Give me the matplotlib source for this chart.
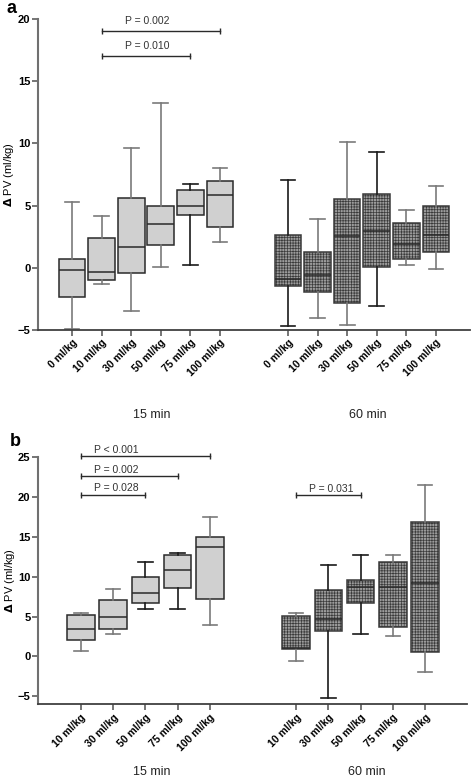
import numpy as np
import matplotlib
matplotlib.use("Agg")
import matplotlib.pyplot as plt

plt.rcParams['font.family'] = ['Liberation Sans', 'DejaVu Sans']
plt.rcParams['hatch.linewidth'] = 0.5

# ---- data ----
doses_a = ["0 ml/kg", "10 ml/kg", "30 ml/kg", "50 ml/kg", "75 ml/kg", "100 ml/kg"]
doses_b = ["10 ml/kg", "30 ml/kg", "50 ml/kg", "75 ml/kg", "100 ml/kg"]
groups = ["15 min", "60 min"]

# panel a, 15 min
a15_lo = [-4.95, -1.29, -3.48, 0.08, 0.21, 2.09]
a15_q1 = [-2.33, -1.02, -0.40, 1.82, 4.26, 3.29]
a15_med = [-0.19, -0.37, 1.69, 3.53, 4.98, 5.84]
a15_q3 = [0.67, 2.43, 5.62, 5.00, 6.27, 6.96]
a15_hi = [5.33, 4.15, 9.66, 13.25, 6.72, 8.03]
# panel a, 60 min
a60_lo = [-4.71, -4.02, -4.63, -3.05, 0.22, -0.10]
a60_q1 = [-1.50, -1.98, -2.84, 0.05, 0.70, 1.31]
a60_med = [-0.88, -0.56, 2.54, 2.92, 1.90, 2.60]
a60_q3 = [2.60, 1.26, 5.52, 5.92, 3.61, 5.00]
a60_hi = [7.09, 3.96, 10.09, 9.29, 4.68, 6.59]

# panel b, 15 min
b15_lo = [0.67, 2.79, 6.00, 6.00, 3.96]
b15_q1 = [2.00, 3.50, 6.75, 8.54, 7.17]
b15_med = [3.50, 4.92, 7.92, 10.87, 13.75]
b15_q3 = [5.17, 7.04, 10.00, 12.67, 14.92]
b15_hi = [5.50, 8.50, 11.79, 12.96, 17.50]
# panel b, 60 min
b60_lo = [-0.54, -5.25, 2.75, 2.50, -1.96]
b60_q1 = [0.96, 3.21, 6.67, 3.71, 0.50]
b60_med = [1.10, 4.67, 8.75, 8.67, 9.17]
b60_q3 = [5.04, 8.29, 9.54, 11.79, 16.88]
b60_hi = [5.42, 11.50, 12.71, 12.67, 21.54]

# significance brackets: label, group, first box, last box, height
a_sig_labels = ["P = 0.002", "P = 0.010"]
a_sig_group = [0, 0]
a_sig_from = [1, 1]
a_sig_to = [5, 4]
a_sig_y = [19.0, 17.0]

b_sig_labels = ["P < 0.001", "P = 0.002", "P = 0.028", "P = 0.031"]
b_sig_group = [0, 0, 0, 1]
b_sig_from = [0, 0, 0, 0]
b_sig_to = [4, 3, 2, 2]
b_sig_y = [25.1, 22.6, 20.3, 20.25]

# whisker colours, as in the original (alternating grey / black)
G, K = '#7a7a7a', '#1a1a1a'
a_wcol = [[G, G, G, G, K, G], [K, G, G, K, G, G]]
b_wcol = [[G, G, K, K, G], [G, K, K, G, G]]


def stats(lo, q1, med, q3, hi):
    return [dict(whislo=l, q1=a, med=m, q3=b, whishi=h, fliers=[])
            for l, a, m, b, h in zip(lo, q1, med, q3, hi)]


def draw_group(ax, st, pos, width, capw, dark, wcols):
    art = ax.bxp(st, positions=pos, widths=width, patch_artist=True,
                 showfliers=False, capwidths=capw,
                 boxprops=dict(linewidth=1.1, edgecolor='#2a2a2a'),
                 medianprops=dict(color='#2a2a2a', linewidth=1.1))
    for b in art['boxes']:
        if dark:
            b.set_facecolor('#9c9c9c')
            b.set_hatch('++++++')
            b.set_edgecolor('#3a3a3a')
        else:
            b.set_facecolor('#d0d0d0')
    for i, c in enumerate(wcols):
        for ln in art['whiskers'][2 * i:2 * i + 2] + art['caps'][2 * i:2 * i + 2]:
            ln.set_color(c)
            ln.set_linewidth(1.2)


def style_axis(ax):
    for s in ['top', 'right']:
        ax.spines[s].set_visible(False)
    ax.spines['left'].set_color('#707070')
    ax.spines['left'].set_linewidth(1.5)
    ax.spines['bottom'].set_color('#404040')
    ax.spines['bottom'].set_linewidth(1.3)
    ax.tick_params(axis='both', length=4, width=1.1, color='#505050', pad=1.5)
    ax.tick_params(axis='y', labelsize=8)
    ax.tick_params(axis='x', labelsize=7.5)
    for t in ax.get_yticklabels():
        t.set_fontweight('bold')
    for t in ax.get_xticklabels():
        t.set_fontweight('bold')
        t.set_rotation(45)
        t.set_ha('right')
        t.set_rotation_mode('anchor')


fig = plt.figure(figsize=(4.71, 7.77), dpi=100)

# ---------------- panel a ----------------
ax1 = fig.add_axes([0.0807, 0.5753, 0.917, 0.4002])
p15a = np.arange(len(doses_a))
p60a = np.arange(len(doses_a)) + 7.3
draw_group(ax1, stats(a15_lo, a15_q1, a15_med, a15_q3, a15_hi), p15a, 0.9, 0.5, False, a_wcol[0])
draw_group(ax1, stats(a60_lo, a60_q1, a60_med, a60_q3, a60_hi), p60a, 0.9, 0.5, True, a_wcol[1])
ax1.set_xlim(-1.15, 13.45)
ax1.set_ylim(-5, 20)
ax1.set_yticks([-5, 0, 5, 10, 15, 20])
ax1.set_xticks(np.concatenate([p15a, p60a]))
ax1.set_xticklabels(doses_a + doses_a)
style_axis(ax1)
ax1.set_ylabel(r"$\mathbf{\Delta}$ PV (ml/kg)", fontsize=8)
ax1.yaxis.set_label_coords(-0.05, 0.5)

pos_a = [p15a, p60a]
for lab, g, i0, i1, y in zip(a_sig_labels, a_sig_group, a_sig_from, a_sig_to, a_sig_y):
    x0, x1 = pos_a[g][i0], pos_a[g][i1]
    ax1.plot([x0, x1], [y, y], color='#2a2a2a', lw=1.0, marker='|', ms=5,
             mew=1.0, clip_on=False)
    ax1.annotate(lab, (x0 + 0.8, y), xytext=(0, 4), textcoords='offset points',
                 ha='left', va='bottom', fontsize=7.5, color='#333333',
                 annotation_clip=False)

for name, p in zip(groups, pos_a):
    ax1.text(p.mean() + 0.2, -0.273, name, transform=ax1.get_xaxis_transform(),
             ha='center', va='center', fontsize=9, color='#222222')

fig.text(0.013, 0.989, "a", fontsize=13, fontweight='bold', va='center', ha='left')

# ---------------- panel b ----------------
ax2 = fig.add_axes([0.0807, 0.0936, 0.911, 0.3182])
p15b = np.arange(len(doses_b))
p60b = np.arange(len(doses_b)) + 6.67
draw_group(ax2, stats(b15_lo, b15_q1, b15_med, b15_q3, b15_hi), p15b, 0.85, 0.45, False, b_wcol[0])
draw_group(ax2, stats(b60_lo, b60_q1, b60_med, b60_q3, b60_hi), p60b, 0.85, 0.45, True, b_wcol[1])
ax2.set_xlim(-1.33, 11.97)
ax2.set_ylim(-6, 25)
ax2.set_yticks([-5, 0, 5, 10, 15, 20, 25])
ax2.set_xticks(np.concatenate([p15b, p60b]))
ax2.set_xticklabels(doses_b + doses_b)
style_axis(ax2)
ax2.set_ylabel(r"$\mathbf{\Delta}$ PV (ml/kg)", fontsize=8)
ax2.yaxis.set_label_coords(-0.05, 0.5)

pos_b = [p15b, p60b]
for lab, g, i0, i1, y in zip(b_sig_labels, b_sig_group, b_sig_from, b_sig_to, b_sig_y):
    x0, x1 = pos_b[g][i0], pos_b[g][i1]
    ax2.plot([x0, x1], [y, y], color='#2a2a2a', lw=1.0, marker='|', ms=5,
             mew=1.0, clip_on=False)
    ax2.annotate(lab, (x0 + 0.4, y), xytext=(0, 1), textcoords='offset points',
                 ha='left', va='bottom', fontsize=7.5, color='#333333',
                 annotation_clip=False)

for name, p in zip(groups, pos_b):
    ax2.text(p.mean() + 0.2, -0.2725, name, transform=ax2.get_xaxis_transform(),
             ha='center', va='center', fontsize=9, color='#222222')

fig.text(0.021, 0.432, "b", fontsize=13, fontweight='bold', va='center', ha='left')

fig.savefig("out.png", dpi=100)
